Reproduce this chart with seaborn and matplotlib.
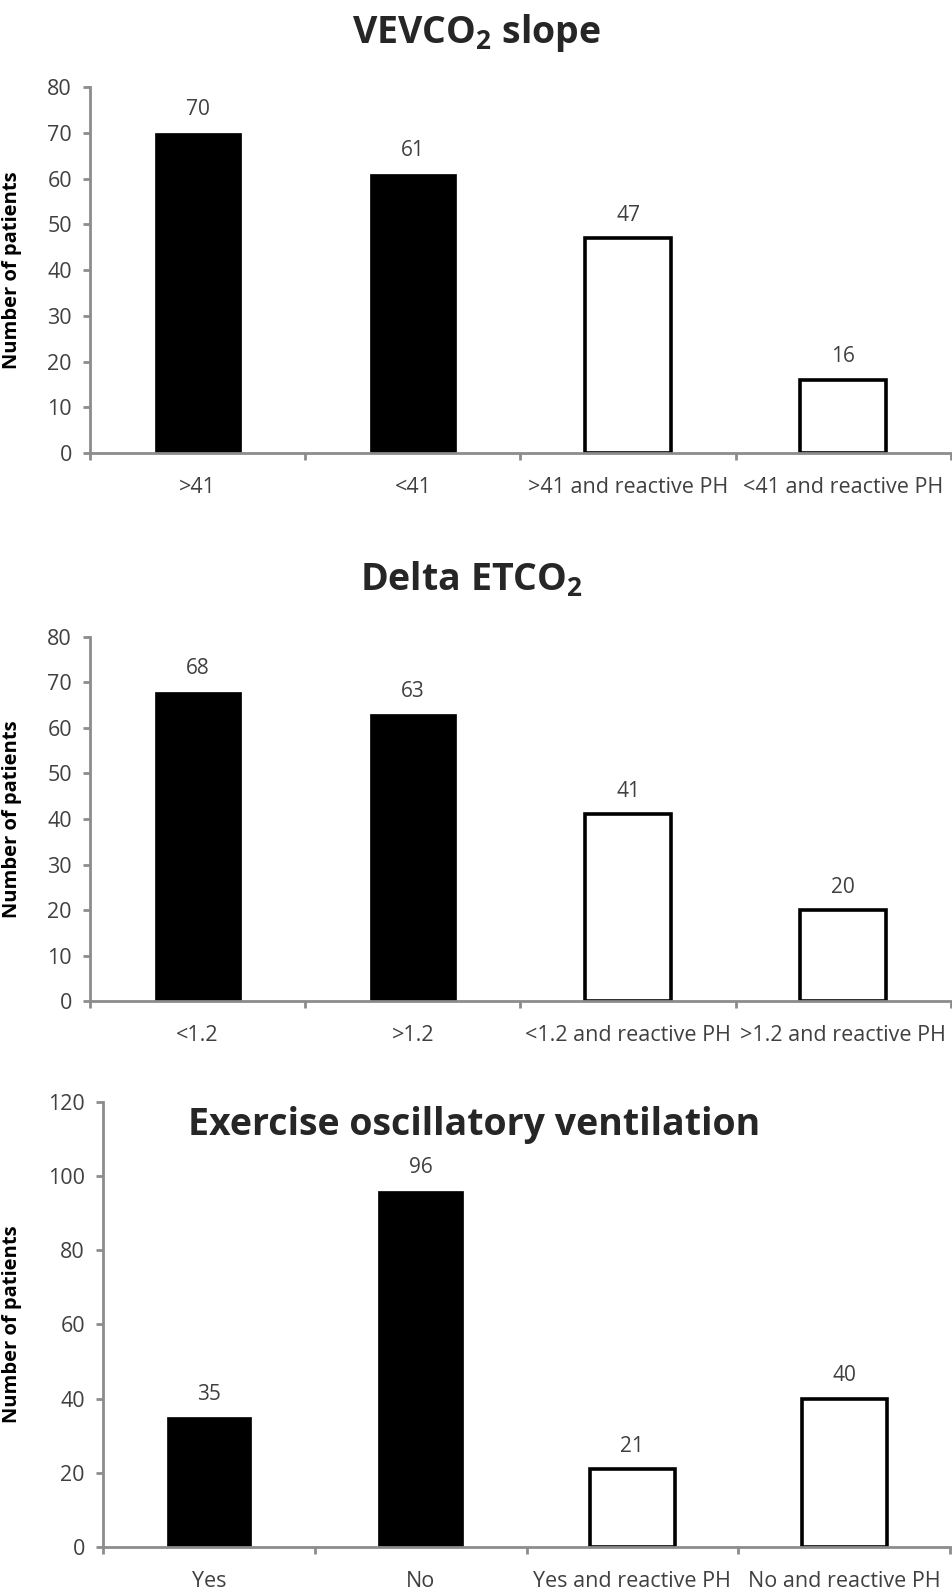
import numpy as np
import matplotlib
matplotlib.use('Agg')
import matplotlib.pyplot as plt
import seaborn as sns

# ---------------------------------------------------------------------------
# data
# ---------------------------------------------------------------------------
vevco2_cats = ['>41', '<41', '>41 and reactive PH', '<41 and reactive PH']
vevco2_vals = [70, 61, 47, 16]

etco2_cats = ['<1.2', '>1.2', '<1.2 and reactive PH', '>1.2 and reactive PH']
etco2_vals = [68, 63, 41, 20]

eov_cats = ['Yes', 'No', 'Yes and reactive PH', 'No and reactive PH']
eov_vals = [35, 96, 21, 40]

bar_fill = ['black', 'black', 'white', 'white']
ylabel = 'Number of patients'

sns.set_theme(style='white')
plt.rcParams['font.family'] = ['Open Sans', 'DejaVu Sans']
plt.rcParams['mathtext.fontset'] = 'custom'
plt.rcParams['mathtext.rm'] = 'Open Sans'
plt.rcParams['mathtext.bf'] = 'Open Sans:bold'

TXT = '#404040'
SPINE = '#8c8c8c'

fig = plt.figure(figsize=(9.53, 15.94), dpi=100)

ax1 = fig.add_axes([0.0944, 0.7158, 0.9035, 0.2296])
ax2 = fig.add_axes([0.0944, 0.3720, 0.9035, 0.2284])
ax3 = fig.add_axes([0.1081, 0.0295, 0.8888, 0.2792])


def draw_panel(ax, cats, vals, ymax, ystep, ylab_x):
    sns.barplot(x=cats, y=vals, hue=cats, palette=bar_fill, legend=False,
                width=0.4, edgecolor='black', linewidth=2.6, ax=ax,
                saturation=1)
    # filled bars have only a hairline edge, open bars a heavy outline
    for p, fc in zip(ax.patches, bar_fill):
        if fc == 'black':
            p.set_linewidth(0.5)
    for cont in ax.containers:
        ax.bar_label(cont, padding=9, fontsize=15, color=TXT)
    ax.set_xlim(-0.5, len(cats) - 0.5)
    ax.set_ylim(0, ymax)
    ax.set_yticks(np.arange(0, ymax + 1, ystep))
    ax.set_xticks(np.arange(-0.5, len(cats), 1.0), minor=True)
    ax.tick_params(axis='x', which='major', length=0, pad=17,
                   labelsize=15.5, labelcolor=TXT)
    ax.tick_params(axis='x', which='minor', length=5, width=2,
                   color=SPINE, direction='out', bottom=True)
    ax.tick_params(axis='y', length=5, width=2, color=SPINE, left=True,
                   direction='out', pad=8, labelsize=15.5, labelcolor=TXT)
    sns.despine(ax=ax)
    for s in ['left', 'bottom']:
        ax.spines[s].set_color(SPINE)
        ax.spines[s].set_linewidth(2)
    ax.set_xlabel('')
    ax.set_ylabel(ylabel, fontsize=14.5, fontweight='bold', color='black')
    ax.yaxis.set_label_coords(ylab_x, 0.5)


draw_panel(ax1, vevco2_cats, vevco2_vals, 80, 10, -0.079)
draw_panel(ax2, etco2_cats, etco2_vals, 80, 10, -0.079)
draw_panel(ax3, eov_cats, eov_vals, 120, 20, -0.096)

fig.text(0.5, 0.979, r'VEVCO$_\mathbf{2}$ slope', ha='center', va='center',
         fontsize=27, fontweight='bold')
fig.text(0.495, 0.636, r'Delta ETCO$_\mathbf{2}$', ha='center', va='center',
         fontsize=27, fontweight='bold')
fig.text(0.498, 0.294, 'Exercise oscillatory ventilation', ha='center',
         va='center', fontsize=27, fontweight='bold')

plt.savefig('out.png', dpi=100)
